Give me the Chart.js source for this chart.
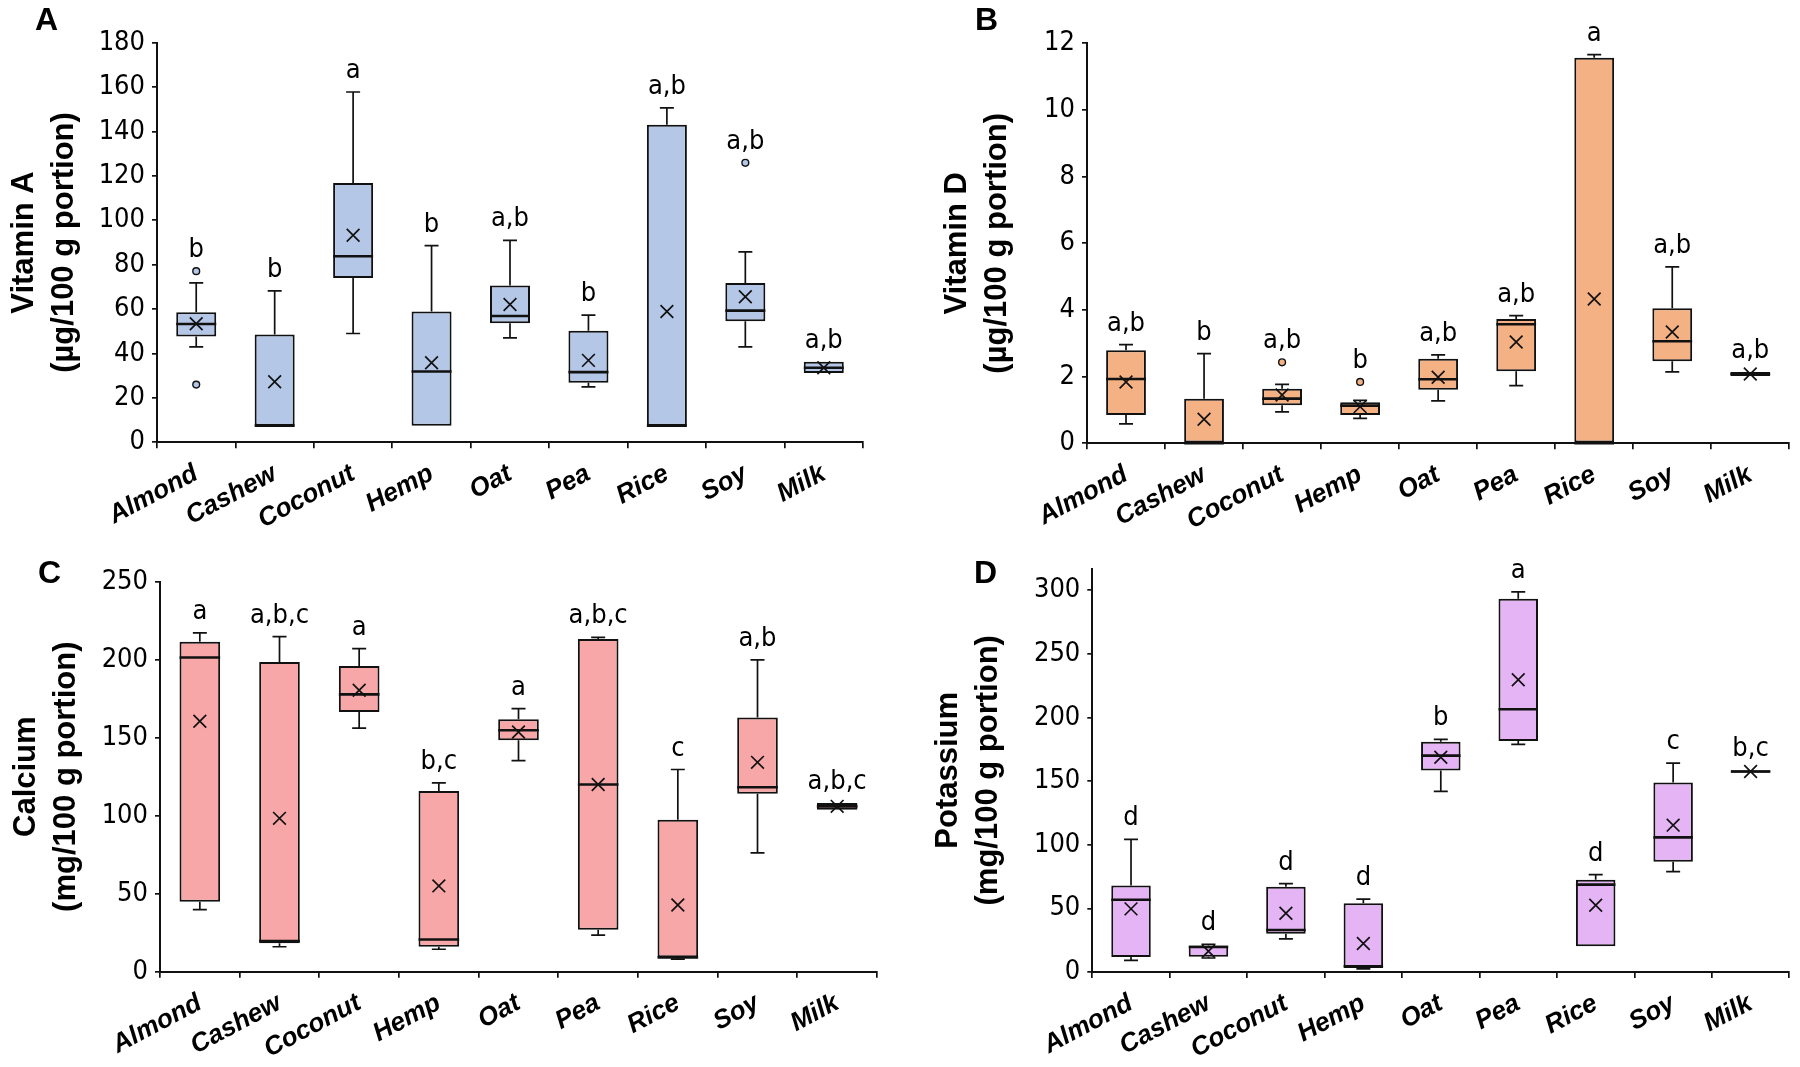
<!DOCTYPE html>
<html>
<head>
<meta charset="utf-8">
<script src="https://cdn.jsdelivr.net/npm/chart.js@4.4.1/dist/chart.umd.min.js"></script>
<style>
  html, body { margin: 0; padding: 0; background: #fff; }
  #wrap { position: relative; width: 1800px; height: 1067px; background: #fff; overflow: hidden; }
  canvas { position: absolute; }
  .plabel { position: absolute; font-family: 'Liberation Sans', Arial, sans-serif; font-weight: bold; font-size: 32px; color: #000; line-height: 1; }
</style>
</head>
<body>
<div id="wrap">
  <canvas id="cA"></canvas>
  <canvas id="cB"></canvas>
  <canvas id="cC"></canvas>
  <canvas id="cD"></canvas>
  <div class="plabel" style="left:35px;top:3px;">A</div>
  <div class="plabel" style="left:975px;top:3px;">B</div>
  <div class="plabel" style="left:38px;top:556px;">C</div>
  <div class="plabel" style="left:974px;top:556px;">D</div>
</div>
<script>
// ---------------- DATA ----------------
const categories = ['Almond', 'Cashew', 'Coconut', 'Hemp', 'Oat', 'Pea', 'Rice', 'Soy', 'Milk'];

// Panel A: Vitamin A (µg/100 g portion)
const vitA_min    = [43, 7.5, 49, 7.5, 47, 25, 7.5, 43, 31.2];
const vitA_q1     = [47.7, 7.5, 74, 7.5, 53.6, 26.8, 7.5, 54.5, 31.2];
const vitA_median = [53.3, 7.5, 83.8, 31.9, 56.9, 31.6, 7.5, 59.3, 33.6];
const vitA_q3     = [58.6, 48.6, 116.8, 58.9, 70.6, 50.3, 143, 71.8, 36.3];
const vitA_max    = [71.8, 68.2, 157.8, 88.6, 91, 57.3, 150.6, 85.8, 36.3];
const vitA_mean   = [53.4, 27.3, 93.3, 35.8, 62.1, 36.9, 58.9, 65.6, 33.6];
const vitA_outliers = [['Almond', 77.1], ['Almond', 26], ['Soy', 125.9]];
const vitA_letters = ['b', 'b', 'a', 'b', 'a,b', 'b', 'a,b', 'a,b', 'a,b'];
const vitA_ticks = { max: 180, step: 20 };

// Panel B: Vitamin D (µg/100 g portion)
const vitD_min    = [0.58, 0, 0.94, 0.75, 1.27, 1.73, 0, 2.14, 2.02];
const vitD_q1     = [0.85, 0, 1.14, 0.85, 1.61, 2.16, 0, 2.46, 2.02];
const vitD_median = [1.93, 0, 1.34, 1.13, 1.92, 3.57, 0, 3.06, 2.08];
const vitD_q3     = [2.79, 1.34, 1.64, 1.23, 2.54, 3.73, 11.57, 4.05, 2.14];
const vitD_max    = [2.96, 2.69, 1.77, 1.29, 2.65, 3.83, 11.66, 5.29, 2.14];
const vitD_mean   = [1.84, 0.72, 1.45, 1.10, 1.98, 3.04, 4.33, 3.34, 2.08];
const vitD_outliers = [['Coconut', 2.43], ['Hemp', 1.84]];
const vitD_letters = ['a,b', 'b', 'a,b', 'b', 'a,b', 'a,b', 'a', 'a,b', 'a,b'];
const vitD_ticks = { max: 12, step: 2 };

// Panel C: Calcium (mg/100 g portion)
const calc_min    = [39.8, 16, 156.1, 14.4, 135.3, 23.4, 8.1, 76.2, 103.8];
const calc_q1     = [44.9, 18.2, 166.4, 16, 148.4, 26.9, 9.2, 114, 103.8];
const calc_median = [201.4, 19.7, 177.8, 20.6, 154.8, 120, 9.2, 118.2, 106];
const calc_q3     = [211.5, 198.6, 195.9, 115.8, 161.8, 213.2, 97.4, 162.9, 108.1];
const calc_max    = [217.2, 214.8, 207.1, 121, 168.6, 214.3, 129.6, 199.9, 108.1];
const calc_mean   = [160.5, 98.3, 180.4, 55, 153.7, 120, 42.7, 134.2, 106];
const calc_outliers = [];
const calc_letters = ['a', 'a,b,c', 'a', 'b,c', 'a', 'a,b,c', 'c', 'a,b', 'a,b,c'];
const calc_ticks = { max: 250, step: 50 };

// Panel D: Potassium (mg/100 g portion)
const pot_min    = [9.1, 11, 26.1, 2.4, 142, 178.8, 20.3, 78.9, 156.5];
const pot_q1     = [11.7, 12, 30.1, 3.2, 158.3, 181.5, 20.3, 86.6, 156.5];
const pot_median = [56.8, 19.7, 33, 4.5, 170, 206.5, 68.7, 105.8, 157.5];
const pot_q3     = [67.9, 20.8, 66.9, 54.1, 181, 293.4, 72.5, 149, 158.5];
const pot_max    = [104.2, 21.8, 69.5, 57.3, 182.8, 298.7, 76.5, 164.1, 158.5];
const pot_mean   = [49.6, 16.3, 46.1, 22.4, 168.7, 229.7, 52.5, 115.4, 157.5];
const pot_outliers = [];
const pot_letters = ['d', 'd', 'd', 'd', 'b', 'a', 'd', 'c', 'b,c'];
const pot_ticks = { max: 317, step: 50 };

// ---------------- STYLE / LAYOUT ----------------
const NARROW = "'Liberation Sans Narrow', 'DejaVu Sans Condensed', 'Liberation Sans', Arial, sans-serif";
const SANS = "'Liberation Sans', Arial, sans-serif";
const INK = '#111';

const panels = [
  { id: 'cA', title: ['Vitamin A', '(µg/100 g portion)'], color: '#B4C7E7',
    min: vitA_min, q1: vitA_q1, median: vitA_median, q3: vitA_q3, max: vitA_max, mean: vitA_mean,
    outliers: vitA_outliers, letters: vitA_letters, ticks: vitA_ticks,
    canvas: { L: 0, T: 0, W: 900, H: 570 }, area: { l: 157, r: 863, t: 42.7, b: 442.3 }, padLeft: 0 },
  { id: 'cB', title: ['Vitamin D', '(µg/100 g portion)'], color: '#F4B183',
    min: vitD_min, q1: vitD_q1, median: vitD_median, q3: vitD_q3, max: vitD_max, mean: vitD_mean,
    outliers: vitD_outliers, letters: vitD_letters, ticks: vitD_ticks,
    canvas: { L: 900, T: 0, W: 900, H: 570 }, area: { l: 1087, r: 1797, t: 43.3, b: 443.3 }, padLeft: 33 },
  { id: 'cC', title: ['Calcium', '(mg/100 g portion)'], color: '#F7A7A7',
    min: calc_min, q1: calc_q1, median: calc_median, q3: calc_q3, max: calc_max, mean: calc_mean,
    outliers: calc_outliers, letters: calc_letters, ticks: calc_ticks,
    canvas: { L: 0, T: 520, W: 900, H: 547 }, area: { l: 160, r: 877, t: 581.7, b: 971.7 }, padLeft: 2 },
  { id: 'cD', title: ['Potassium', '(mg/100 g portion)'], color: '#E4B4F4',
    min: pot_min, q1: pot_q1, median: pot_median, q3: pot_q3, max: pot_max, mean: pot_mean,
    outliers: pot_outliers, letters: pot_letters, ticks: pot_ticks,
    canvas: { L: 900, T: 520, W: 900, H: 547 }, area: { l: 1092.3, r: 1799, t: 568.6, b: 972 }, padLeft: 24 }
];

// Plugin: whiskers (behind box), medians (over box), significance letters
const boxExtras = {
  id: 'boxExtras',
  beforeDatasetDraw(chart, args, opts) {
    if (args.index !== 0) return;
    const p = opts.panel, ctx = chart.ctx, y = chart.scales.y;
    const meta = chart.getDatasetMeta(0);
    ctx.save();
    ctx.strokeStyle = INK;
    ctx.lineWidth = 1.7;
    meta.data.forEach((bar, i) => {
      const cx = bar.x, cap = 7;
      const segs = [];
      if (p.max[i] > p.q3[i]) segs.push([p.q3[i], p.max[i]]);
      if (p.min[i] < p.q1[i]) segs.push([p.q1[i], p.min[i]]);
      segs.forEach(([from, to]) => {
        const y0 = y.getPixelForValue(from), y1 = y.getPixelForValue(to);
        ctx.beginPath();
        ctx.moveTo(cx, y0); ctx.lineTo(cx, y1);
        ctx.moveTo(cx - cap, y1); ctx.lineTo(cx + cap, y1);
        ctx.stroke();
      });
    });
    ctx.restore();
  },
  afterDatasetDraw(chart, args, opts) {
    if (args.index !== 0) return;
    const p = opts.panel, ctx = chart.ctx, y = chart.scales.y;
    const meta = chart.getDatasetMeta(0);
    ctx.save();
    ctx.strokeStyle = INK;
    ctx.lineWidth = 2.6;
    meta.data.forEach((bar, i) => {
      const half = bar.width / 2;
      const ym = y.getPixelForValue(p.median[i]);
      ctx.beginPath();
      ctx.moveTo(bar.x - half, ym); ctx.lineTo(bar.x + half, ym);
      ctx.stroke();
    });
    ctx.restore();
  },
  afterDraw(chart, args, opts) {
    const p = opts.panel, ctx = chart.ctx, y = chart.scales.y, x = chart.scales.x;
    ctx.save();
    ctx.fillStyle = '#000';
    ctx.font = '27px ' + NARROW;
    ctx.textAlign = 'center';
    ctx.textBaseline = 'alphabetic';
    categories.forEach((c, i) => {
      let top = Math.max(p.max[i], p.q3[i]);
      p.outliers.forEach(o => { if (o[0] === c) top = Math.max(top, o[1]); });
      const py = y.getPixelForValue(top) - 14;
      ctx.fillText(p.letters[i], x.getPixelForValue(i), py);
    });
    ctx.restore();
  }
};

panels.forEach(p => {
  const cv = document.getElementById(p.id);
  cv.width = p.canvas.W; cv.height = p.canvas.H;
  cv.style.left = p.canvas.L + 'px'; cv.style.top = p.canvas.T + 'px';
  cv.style.width = p.canvas.W + 'px'; cv.style.height = p.canvas.H + 'px';

  const yWidth = p.area.l - p.canvas.L - p.padLeft;
  const padRight = p.canvas.L + p.canvas.W - p.area.r;
  const padTop = p.area.t - p.canvas.T;
  const xHeight = p.canvas.T + p.canvas.H - p.area.b;

  new Chart(cv, {
    type: 'bar',
    data: {
      labels: categories,
      datasets: [
        { type: 'bar', data: categories.map((c, i) => [p.q1[i], p.q3[i]]),
          backgroundColor: p.color, borderColor: INK, borderWidth: 2, borderSkipped: false,
          categoryPercentage: 1, barPercentage: 0.51, order: 3 },
        { type: 'line', data: p.outliers.map(o => ({ x: o[0], y: o[1] })), showLine: false,
          pointStyle: 'circle', pointRadius: 3.4, pointBackgroundColor: p.color,
          pointBorderColor: INK, pointBorderWidth: 1.4, order: 2 },
        { type: 'line', data: p.mean, showLine: false, pointStyle: 'crossRot',
          pointRadius: 9, pointBorderColor: INK, pointBorderWidth: 1.7, order: 1 }
      ]
    },
    options: {
      responsive: false, animation: false, devicePixelRatio: 1,
      layout: { padding: { left: p.padLeft, right: padRight, top: padTop, bottom: 0 } },
      plugins: { legend: { display: false }, tooltip: { enabled: false }, boxExtras: { panel: p } },
      scales: {
        x: {
          type: 'category', offset: true,
          grid: { display: true, offset: true, drawOnChartArea: false, drawTicks: true, tickLength: 6, color: INK, lineWidth: 1.7 },
          border: { display: true, color: INK, width: 2 },
          ticks: { autoSkip: false, minRotation: 28, maxRotation: 28, padding: 10, color: '#000',
                   font: { family: SANS, size: 26, weight: 'bold', style: 'italic' } },
          afterFit(scale) { scale.height = xHeight; }
        },
        y: {
          min: 0, max: p.ticks.max,
          grid: { display: true, drawOnChartArea: false, drawTicks: true, tickLength: 5, color: INK, lineWidth: 1.7 },
          border: { display: true, color: INK, width: 2 },
          ticks: { stepSize: p.ticks.step, includeBounds: false, padding: 7, color: '#000',
                   font: { family: NARROW, size: 27 } },
          title: { display: true, text: p.title, color: '#000', padding: { top: 4, bottom: 0 },
                   font: { family: SANS, size: 31, weight: 'bold', lineHeight: 1.3 } },
          afterFit(scale) { scale.width = yWidth; }
        }
      }
    },
    plugins: [boxExtras]
  });
});
</script>
</body>
</html>
